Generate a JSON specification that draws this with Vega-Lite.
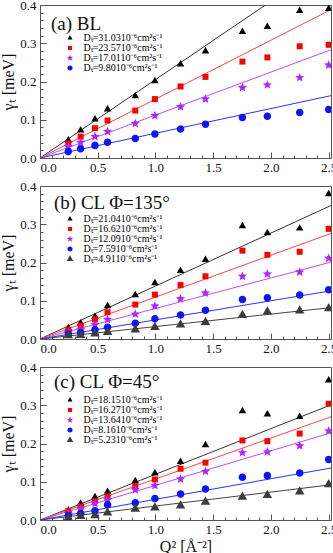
{
  "$schema": "https://vega.github.io/schema/vega-lite/v6.json",
  "background": "white",
  "padding": {"left": 0, "top": -2, "right": 2.5, "bottom": 0},
  "spacing": 28,
  "bounds": "flush",
  "config": {
    "font": "Liberation Serif",
    "view": {"stroke": "#555555", "strokeWidth": 1},
    "axis": {"labelFont": "Liberation Serif", "titleFont": "Liberation Serif", "labelFontSize": 13, "titleFontSize": 16, "titleFontWeight": "normal", "labelColor": "#111111", "titleColor": "#111111", "domainColor": "#555555", "tickColor": "#555555", "grid": false},
    "title": {"font": "Liberation Serif"}
  },
  "datasets": {
    "points": [
      {"p":"a","s":"31.03","q":0.245,"g":0.046},{"p":"a","s":"31.03","q":0.352,"g":0.072},{"p":"a","s":"31.03","q":0.476,"g":0.101},{"p":"a","s":"31.03","q":0.585,"g":0.127},{"p":"a","s":"31.03","q":0.825,"g":0.162},{"p":"a","s":"31.03","q":0.995,"g":0.201},{"p":"a","s":"31.03","q":1.217,"g":0.245},{"p":"a","s":"31.03","q":1.433,"g":0.279},{"p":"a","s":"31.03","q":1.753,"g":0.330},{"p":"a","s":"31.03","q":1.969,"g":0.343},{"p":"a","s":"31.03","q":2.249,"g":0.385},{"p":"a","s":"31.03","q":2.5,"g":0.390},
      {"p":"a","s":"23.57","q":0.245,"g":0.038},{"p":"a","s":"23.57","q":0.352,"g":0.056},{"p":"a","s":"23.57","q":0.476,"g":0.078},{"p":"a","s":"23.57","q":0.585,"g":0.098},{"p":"a","s":"23.57","q":0.825,"g":0.124},{"p":"a","s":"23.57","q":0.995,"g":0.154},{"p":"a","s":"23.57","q":1.217,"g":0.187},{"p":"a","s":"23.57","q":1.433,"g":0.212},{"p":"a","s":"23.57","q":1.753,"g":0.252},{"p":"a","s":"23.57","q":1.969,"g":0.263},{"p":"a","s":"23.57","q":2.249,"g":0.292},{"p":"a","s":"23.57","q":2.5,"g":0.296},
      {"p":"a","s":"17.01","q":0.245,"g":0.030},{"p":"a","s":"17.01","q":0.352,"g":0.041},{"p":"a","s":"17.01","q":0.476,"g":0.056},{"p":"a","s":"17.01","q":0.585,"g":0.069},{"p":"a","s":"17.01","q":0.825,"g":0.090},{"p":"a","s":"17.01","q":0.995,"g":0.111},{"p":"a","s":"17.01","q":1.217,"g":0.134},{"p":"a","s":"17.01","q":1.433,"g":0.154},{"p":"a","s":"17.01","q":1.753,"g":0.184},{"p":"a","s":"17.01","q":1.969,"g":0.191},{"p":"a","s":"17.01","q":2.249,"g":0.210},{"p":"a","s":"17.01","q":2.5,"g":0.243},
      {"p":"a","s":"9.80","q":0.245,"g":0.017},{"p":"a","s":"9.80","q":0.352,"g":0.024},{"p":"a","s":"9.80","q":0.476,"g":0.033},{"p":"a","s":"9.80","q":0.585,"g":0.041},{"p":"a","s":"9.80","q":0.825,"g":0.051},{"p":"a","s":"9.80","q":0.995,"g":0.063},{"p":"a","s":"9.80","q":1.217,"g":0.076},{"p":"a","s":"9.80","q":1.433,"g":0.088},{"p":"a","s":"9.80","q":1.753,"g":0.106},{"p":"a","s":"9.80","q":1.969,"g":0.109},{"p":"a","s":"9.80","q":2.249,"g":0.119},{"p":"a","s":"9.80","q":2.5,"g":0.127},

      {"p":"b","s":"21.04","q":0.245,"g":0.028},{"p":"b","s":"21.04","q":0.352,"g":0.041},{"p":"b","s":"21.04","q":0.476,"g":0.058},{"p":"b","s":"21.04","q":0.585,"g":0.086},{"p":"b","s":"21.04","q":0.825,"g":0.115},{"p":"b","s":"21.04","q":0.995,"g":0.146},{"p":"b","s":"21.04","q":1.217,"g":0.178},{"p":"b","s":"21.04","q":1.433,"g":0.207},{"p":"b","s":"21.04","q":1.753,"g":0.295},{"p":"b","s":"21.04","q":1.969,"g":0.277},{"p":"b","s":"21.04","q":2.249,"g":0.289},{"p":"b","s":"21.04","q":2.5,"g":0.379},
      {"p":"b","s":"16.62","q":0.245,"g":0.024},{"p":"b","s":"16.62","q":0.352,"g":0.035},{"p":"b","s":"16.62","q":0.476,"g":0.051},{"p":"b","s":"16.62","q":0.585,"g":0.070},{"p":"b","s":"16.62","q":0.825,"g":0.090},{"p":"b","s":"16.62","q":0.995,"g":0.116},{"p":"b","s":"16.62","q":1.217,"g":0.141},{"p":"b","s":"16.62","q":1.433,"g":0.164},{"p":"b","s":"16.62","q":1.753,"g":0.231},{"p":"b","s":"16.62","q":1.969,"g":0.220},{"p":"b","s":"16.62","q":2.249,"g":0.228},{"p":"b","s":"16.62","q":2.5,"g":0.288},
      {"p":"b","s":"12.09","q":0.245,"g":0.017},{"p":"b","s":"12.09","q":0.352,"g":0.024},{"p":"b","s":"12.09","q":0.476,"g":0.037},{"p":"b","s":"12.09","q":0.585,"g":0.051},{"p":"b","s":"12.09","q":0.825,"g":0.065},{"p":"b","s":"12.09","q":0.995,"g":0.086},{"p":"b","s":"12.09","q":1.217,"g":0.105},{"p":"b","s":"12.09","q":1.433,"g":0.120},{"p":"b","s":"12.09","q":1.753,"g":0.164},{"p":"b","s":"12.09","q":1.969,"g":0.170},{"p":"b","s":"12.09","q":2.249,"g":0.175},{"p":"b","s":"12.09","q":2.5,"g":0.211},
      {"p":"b","s":"7.59","q":0.245,"g":0.013},{"p":"b","s":"7.59","q":0.352,"g":0.017},{"p":"b","s":"7.59","q":0.476,"g":0.024},{"p":"b","s":"7.59","q":0.585,"g":0.031},{"p":"b","s":"7.59","q":0.825,"g":0.041},{"p":"b","s":"7.59","q":0.995,"g":0.053},{"p":"b","s":"7.59","q":1.217,"g":0.063},{"p":"b","s":"7.59","q":1.433,"g":0.075},{"p":"b","s":"7.59","q":1.753,"g":0.103},{"p":"b","s":"7.59","q":1.969,"g":0.108},{"p":"b","s":"7.59","q":2.249,"g":0.115},{"p":"b","s":"7.59","q":2.5,"g":0.129},
      {"p":"b","s":"4.91","q":0.245,"g":0.009},{"p":"b","s":"4.91","q":0.352,"g":0.010},{"p":"b","s":"4.91","q":0.476,"g":0.014},{"p":"b","s":"4.91","q":0.585,"g":0.018},{"p":"b","s":"4.91","q":0.825,"g":0.024},{"p":"b","s":"4.91","q":0.995,"g":0.031},{"p":"b","s":"4.91","q":1.217,"g":0.037},{"p":"b","s":"4.91","q":1.433,"g":0.044},{"p":"b","s":"4.91","q":1.753,"g":0.062},{"p":"b","s":"4.91","q":1.969,"g":0.071},{"p":"b","s":"4.91","q":2.249,"g":0.074},{"p":"b","s":"4.91","q":2.5,"g":0.080},

      {"p":"c","s":"18.15","q":0.245,"g":0.025},{"p":"c","s":"18.15","q":0.352,"g":0.043},{"p":"c","s":"18.15","q":0.476,"g":0.060},{"p":"c","s":"18.15","q":0.585,"g":0.074},{"p":"c","s":"18.15","q":0.825,"g":0.102},{"p":"c","s":"18.15","q":0.995,"g":0.122},{"p":"c","s":"18.15","q":1.217,"g":0.152},{"p":"c","s":"18.15","q":1.433,"g":0.196},{"p":"c","s":"18.15","q":1.753,"g":0.285},{"p":"c","s":"18.15","q":1.969,"g":0.276},{"p":"c","s":"18.15","q":2.249,"g":0.270},{"p":"c","s":"18.15","q":2.5,"g":0.365},
      {"p":"c","s":"16.27","q":0.245,"g":0.023},{"p":"c","s":"16.27","q":0.352,"g":0.035},{"p":"c","s":"16.27","q":0.476,"g":0.049},{"p":"c","s":"16.27","q":0.585,"g":0.061},{"p":"c","s":"16.27","q":0.825,"g":0.089},{"p":"c","s":"16.27","q":0.995,"g":0.106},{"p":"c","s":"16.27","q":1.217,"g":0.134},{"p":"c","s":"16.27","q":1.433,"g":0.150},{"p":"c","s":"16.27","q":1.753,"g":0.208},{"p":"c","s":"16.27","q":1.969,"g":0.206},{"p":"c","s":"16.27","q":2.249,"g":0.226},{"p":"c","s":"16.27","q":2.5,"g":0.304},
      {"p":"c","s":"13.64","q":0.245,"g":0.017},{"p":"c","s":"13.64","q":0.352,"g":0.029},{"p":"c","s":"13.64","q":0.476,"g":0.043},{"p":"c","s":"13.64","q":0.585,"g":0.053},{"p":"c","s":"13.64","q":0.825,"g":0.079},{"p":"c","s":"13.64","q":0.995,"g":0.090},{"p":"c","s":"13.64","q":1.217,"g":0.107},{"p":"c","s":"13.64","q":1.433,"g":0.127},{"p":"c","s":"13.64","q":1.753,"g":0.176},{"p":"c","s":"13.64","q":1.969,"g":0.178},{"p":"c","s":"13.64","q":2.249,"g":0.194},{"p":"c","s":"13.64","q":2.5,"g":0.233},
      {"p":"c","s":"8.16","q":0.245,"g":0.012},{"p":"c","s":"8.16","q":0.352,"g":0.017},{"p":"c","s":"8.16","q":0.476,"g":0.024},{"p":"c","s":"8.16","q":0.585,"g":0.040},{"p":"c","s":"8.16","q":0.825,"g":0.045},{"p":"c","s":"8.16","q":0.995,"g":0.056},{"p":"c","s":"8.16","q":1.217,"g":0.068},{"p":"c","s":"8.16","q":1.433,"g":0.081},{"p":"c","s":"8.16","q":1.753,"g":0.112},{"p":"c","s":"8.16","q":1.969,"g":0.116},{"p":"c","s":"8.16","q":2.249,"g":0.123},{"p":"c","s":"8.16","q":2.5,"g":0.158},
      {"p":"c","s":"5.23","q":0.245,"g":0.006},{"p":"c","s":"5.23","q":0.352,"g":0.010},{"p":"c","s":"5.23","q":0.476,"g":0.012},{"p":"c","s":"5.23","q":0.585,"g":0.019},{"p":"c","s":"5.23","q":0.825,"g":0.029},{"p":"c","s":"5.23","q":0.995,"g":0.032},{"p":"c","s":"5.23","q":1.217,"g":0.037},{"p":"c","s":"5.23","q":1.433,"g":0.047},{"p":"c","s":"5.23","q":1.753,"g":0.060},{"p":"c","s":"5.23","q":1.969,"g":0.065},{"p":"c","s":"5.23","q":2.249,"g":0.074},{"p":"c","s":"5.23","q":2.5,"g":0.093}
    ],
    "lines": [
      {"p":"a","s":"31.03","q":0,"g":0},{"p":"a","s":"31.03","q":1.952,"g":0.4},
      {"p":"a","s":"23.57","q":0,"g":0},{"p":"a","s":"23.57","q":2.52,"g":0.388},
      {"p":"a","s":"17.01","q":0,"g":0},{"p":"a","s":"17.01","q":2.52,"g":0.283},
      {"p":"a","s":"9.80","q":0,"g":0},{"p":"a","s":"9.80","q":2.52,"g":0.163},
      {"p":"b","s":"21.04","q":0,"g":0},{"p":"b","s":"21.04","q":2.52,"g":0.349},
      {"p":"b","s":"16.62","q":0,"g":0},{"p":"b","s":"16.62","q":2.52,"g":0.276},
      {"p":"b","s":"12.09","q":0,"g":0},{"p":"b","s":"12.09","q":2.52,"g":0.201},
      {"p":"b","s":"7.59","q":0,"g":0},{"p":"b","s":"7.59","q":2.52,"g":0.126},
      {"p":"b","s":"4.91","q":0,"g":0},{"p":"b","s":"4.91","q":2.52,"g":0.082},
      {"p":"c","s":"18.15","q":0,"g":0},{"p":"c","s":"18.15","q":2.52,"g":0.301},
      {"p":"c","s":"16.27","q":0,"g":0},{"p":"c","s":"16.27","q":2.52,"g":0.270},
      {"p":"c","s":"13.64","q":0,"g":0},{"p":"c","s":"13.64","q":2.52,"g":0.228},
      {"p":"c","s":"8.16","q":0,"g":0},{"p":"c","s":"8.16","q":2.52,"g":0.136},
      {"p":"c","s":"5.23","q":0,"g":0},{"p":"c","s":"5.23","q":2.52,"g":0.092}
    ]
  },
  "resolve": {
    "scale": {"x": "independent", "y": "independent", "color": "independent", "shape": "independent", "stroke": "independent"},
    "legend": {"color": "independent", "shape": "independent", "stroke": "independent"}
  },
  "vconcat": [
    {
      "width": 291, "height": 153,
      "title": {"text": "(a) BL", "anchor": "start", "frame": "group", "orient": "top", "offset": -50, "baseline": "alphabetic", "dx": 11, "fontSize": 19, "fontWeight": "normal", "color": "#111111"},
      "layer": [
        {
          "data": {"name": "lines"}, "transform": [{"filter": "datum.p === 'a'"}],
          "mark": {"type": "line", "clip": true, "strokeWidth": 1},
          "encoding": {
            "x": {"field": "q", "type": "quantitative", "scale": {"domain": [0, 2.52], "nice": false, "zero": false}, "axis": {"orient": "bottom", "values": [0.1,0.2,0.3,0.4,0.6,0.7,0.8,0.9,1.1,1.2,1.3,1.4,1.6,1.7,1.8,1.9,2.1,2.2,2.3,2.4], "labels": false, "domain": false, "tickSize": -3, "title": null}},
            "y": {"field": "g", "type": "quantitative", "scale": {"domain": [0, 0.4], "nice": false}, "axis": {"orient": "left", "values": [0.02,0.04,0.06,0.08,0.12,0.14,0.16,0.18,0.22,0.24,0.26,0.28,0.32,0.34,0.36,0.38], "labels": false, "domain": false, "tickSize": -3, "title": null}},
            "stroke": {"field": "s", "type": "nominal", "scale": {"domain": ["9.80","17.01","23.57","31.03"], "range": ["#3030ff","#c04cff","#ff4444","#333333"]}, "legend": null}
          }
        },
        {
          "data": {"name": "points"}, "transform": [{"filter": "datum.p === 'a'"}],
          "mark": {"type": "point", "filled": true, "opacity": 1, "clip": true, "size": 64},
          "encoding": {
            "x": {"field": "q", "type": "quantitative", "scale": {"domain": [0, 2.52], "nice": false, "zero": false}, "axis": {"orient": "bottom", "values": [0,0.5,1,1.5,2,2.5], "format": ".1f", "tickSize": -6, "labelPadding": 9.5, "title": null}},
            "y": {"field": "g", "type": "quantitative", "scale": {"domain": [0, 0.4], "nice": false}, "axis": {"orient": "left", "values": [0,0.1,0.2,0.3,0.4], "format": ".1f", "tickSize": -6, "labelPadding": 10, "title": "γₜ [meV]", "titlePadding": 3}},
            "color": {"field": "s", "type": "nominal", "scale": {"domain": ["31.03","23.57","17.01","9.80"], "range": ["#000000","#ff0000","#b026ff","#0a14ff"]},
              "legend": {"orient": "none", "legendX": 25, "legendY": 28, "title": null, "padding": 0, "rowPadding": -1.5, "symbolSize": 30, "labelFont": "Liberation Serif", "labelFontSize": 10, "labelOffset": 8.5, "labelExpr": "'Dₜ=' + datum.label + '10⁻⁶cm²s⁻¹'", "encode": {"labels": {"update": {"fill": {"signal": "['#000000','#ff2020','#c040ff','#2040ff','#555555'][datum.index]"}}}}}},
            "shape": {"field": "s", "type": "nominal", "scale": {"domain": ["31.03","23.57","17.01","9.80"], "range": ["M0,-1.08L0.94,0.54L-0.94,0.54Z","M-0.75,-0.75L0.75,-0.75L0.75,0.75L-0.75,0.75Z","M0,-1.2L0.317,-0.437L1.141,-0.371L0.514,0.167L0.705,0.971L0,0.54L-0.705,0.971L-0.514,0.167L-1.141,-0.371L-0.317,-0.437Z","M0.94,0A0.94,0.94,0,1,1,-0.94,0A0.94,0.94,0,1,1,0.94,0Z"]},
              "legend": {"orient": "none", "legendX": 25, "legendY": 28, "title": null, "padding": 0, "rowPadding": -1.5, "symbolSize": 30, "labelFont": "Liberation Serif", "labelFontSize": 10, "labelOffset": 8.5, "labelExpr": "'Dₜ=' + datum.label + '10⁻⁶cm²s⁻¹'", "encode": {"labels": {"update": {"fill": {"signal": "['#000000','#ff2020','#c040ff','#2040ff','#555555'][datum.index]"}}}}}}
          }
        }
      ],
      "resolve": {"axis": {"x": "independent", "y": "independent"}}
    },
    {
      "width": 291, "height": 153,
      "title": {"text": "(b) CL  Φ=135°", "anchor": "start", "frame": "group", "orient": "top", "offset": -48, "baseline": "alphabetic", "dx": 14, "fontSize": 19, "fontWeight": "normal", "color": "#111111"},
      "layer": [
        {
          "data": {"name": "lines"}, "transform": [{"filter": "datum.p === 'b'"}],
          "mark": {"type": "line", "clip": true, "strokeWidth": 1},
          "encoding": {
            "x": {"field": "q", "type": "quantitative", "scale": {"domain": [0, 2.52], "nice": false, "zero": false}, "axis": {"orient": "bottom", "values": [0.1,0.2,0.3,0.4,0.6,0.7,0.8,0.9,1.1,1.2,1.3,1.4,1.6,1.7,1.8,1.9,2.1,2.2,2.3,2.4], "labels": false, "domain": false, "tickSize": -3, "title": null}},
            "y": {"field": "g", "type": "quantitative", "scale": {"domain": [0, 0.4], "nice": false}, "axis": {"orient": "left", "values": [0.02,0.04,0.06,0.08,0.12,0.14,0.16,0.18,0.22,0.24,0.26,0.28,0.32,0.34,0.36,0.38], "labels": false, "domain": false, "tickSize": -3, "title": null}},
            "stroke": {"field": "s", "type": "nominal", "scale": {"domain": ["4.91","7.59","12.09","16.62","21.04"], "range": ["#444444","#3030ff","#c04cff","#ff4444","#333333"]}, "legend": null}
          }
        },
        {
          "data": {"name": "points"}, "transform": [{"filter": "datum.p === 'b'"}],
          "mark": {"type": "point", "filled": true, "opacity": 1, "clip": true, "size": 64},
          "encoding": {
            "x": {"field": "q", "type": "quantitative", "scale": {"domain": [0, 2.52], "nice": false, "zero": false}, "axis": {"orient": "bottom", "values": [0,0.5,1,1.5,2,2.5], "format": ".1f", "tickSize": -6, "labelPadding": 9.5, "title": null}},
            "y": {"field": "g", "type": "quantitative", "scale": {"domain": [0, 0.4], "nice": false}, "axis": {"orient": "left", "values": [0,0.1,0.2,0.3,0.4], "format": ".1f", "tickSize": -6, "labelPadding": 10, "title": "γₜ [meV]", "titlePadding": 3}},
            "color": {"field": "s", "type": "nominal", "scale": {"domain": ["21.04","16.62","12.09","7.59","4.91"], "range": ["#000000","#ff0000","#b026ff","#0a14ff","#3c3c3c"]},
              "legend": {"orient": "none", "legendX": 25, "legendY": 28, "title": null, "padding": 0, "rowPadding": -1.5, "symbolSize": 30, "labelFont": "Liberation Serif", "labelFontSize": 10, "labelOffset": 8.5, "labelExpr": "'Dₜ=' + datum.label + '10⁻⁶cm²s⁻¹'", "encode": {"labels": {"update": {"fill": {"signal": "['#000000','#ff2020','#c040ff','#2040ff','#555555'][datum.index]"}}}}}},
            "shape": {"field": "s", "type": "nominal", "scale": {"domain": ["21.04","16.62","12.09","7.59","4.91"], "range": ["M0,-1.08L0.94,0.54L-0.94,0.54Z","M-0.75,-0.75L0.75,-0.75L0.75,0.75L-0.75,0.75Z","M0,-1.2L0.317,-0.437L1.141,-0.371L0.514,0.167L0.705,0.971L0,0.54L-0.705,0.971L-0.514,0.167L-1.141,-0.371L-0.317,-0.437Z","M0.94,0A0.94,0.94,0,1,1,-0.94,0A0.94,0.94,0,1,1,0.94,0Z","M0,-1.37L1.19,0.69L-1.19,0.69Z"]},
              "legend": {"orient": "none", "legendX": 25, "legendY": 28, "title": null, "padding": 0, "rowPadding": -1.5, "symbolSize": 30, "labelFont": "Liberation Serif", "labelFontSize": 10, "labelOffset": 8.5, "labelExpr": "'Dₜ=' + datum.label + '10⁻⁶cm²s⁻¹'", "encode": {"labels": {"update": {"fill": {"signal": "['#000000','#ff2020','#c040ff','#2040ff','#555555'][datum.index]"}}}}}}
          }
        }
      ],
      "resolve": {"axis": {"x": "independent", "y": "independent"}}
    },
    {
      "width": 291, "height": 153,
      "title": {"text": "(c) CL  Φ=45°", "anchor": "start", "frame": "group", "orient": "top", "offset": -46, "baseline": "alphabetic", "dx": 14, "fontSize": 19, "fontWeight": "normal", "color": "#111111"},
      "layer": [
        {
          "data": {"name": "lines"}, "transform": [{"filter": "datum.p === 'c'"}],
          "mark": {"type": "line", "clip": true, "strokeWidth": 1},
          "encoding": {
            "x": {"field": "q", "type": "quantitative", "scale": {"domain": [0, 2.52], "nice": false, "zero": false}, "axis": {"orient": "bottom", "values": [0.1,0.2,0.3,0.4,0.6,0.7,0.8,0.9,1.1,1.2,1.3,1.4,1.6,1.7,1.8,1.9,2.1,2.2,2.3,2.4], "labels": false, "domain": false, "tickSize": -3, "title": null}},
            "y": {"field": "g", "type": "quantitative", "scale": {"domain": [0, 0.4], "nice": false}, "axis": {"orient": "left", "values": [0.02,0.04,0.06,0.08,0.12,0.14,0.16,0.18,0.22,0.24,0.26,0.28,0.32,0.34,0.36,0.38], "labels": false, "domain": false, "tickSize": -3, "title": null}},
            "stroke": {"field": "s", "type": "nominal", "scale": {"domain": ["5.23","8.16","13.64","16.27","18.15"], "range": ["#444444","#3030ff","#c04cff","#ff4444","#333333"]}, "legend": null}
          }
        },
        {
          "data": {"name": "points"}, "transform": [{"filter": "datum.p === 'c'"}],
          "mark": {"type": "point", "filled": true, "opacity": 1, "clip": true, "size": 64},
          "encoding": {
            "x": {"field": "q", "type": "quantitative", "scale": {"domain": [0, 2.52], "nice": false, "zero": false}, "axis": {"orient": "bottom", "values": [0,0.5,1,1.5,2,2.5], "format": ".1f", "tickSize": -6, "labelPadding": 9.5, "title": "Q² [Å⁻²]", "titlePadding": 2}},
            "y": {"field": "g", "type": "quantitative", "scale": {"domain": [0, 0.4], "nice": false}, "axis": {"orient": "left", "values": [0,0.1,0.2,0.3,0.4], "format": ".1f", "tickSize": -6, "labelPadding": 10, "title": "γₜ [meV]", "titlePadding": 3}},
            "color": {"field": "s", "type": "nominal", "scale": {"domain": ["18.15","16.27","13.64","8.16","5.23"], "range": ["#000000","#ff0000","#b026ff","#0a14ff","#3c3c3c"]},
              "legend": {"orient": "none", "legendX": 25, "legendY": 28, "title": null, "padding": 0, "rowPadding": -1.5, "symbolSize": 30, "labelFont": "Liberation Serif", "labelFontSize": 10, "labelOffset": 8.5, "labelExpr": "'Dₜ=' + datum.label + '10⁻⁶cm²s⁻¹'", "encode": {"labels": {"update": {"fill": {"signal": "['#000000','#ff2020','#c040ff','#2040ff','#555555'][datum.index]"}}}}}},
            "shape": {"field": "s", "type": "nominal", "scale": {"domain": ["18.15","16.27","13.64","8.16","5.23"], "range": ["M0,-1.08L0.94,0.54L-0.94,0.54Z","M-0.75,-0.75L0.75,-0.75L0.75,0.75L-0.75,0.75Z","M0,-1.2L0.317,-0.437L1.141,-0.371L0.514,0.167L0.705,0.971L0,0.54L-0.705,0.971L-0.514,0.167L-1.141,-0.371L-0.317,-0.437Z","M0.94,0A0.94,0.94,0,1,1,-0.94,0A0.94,0.94,0,1,1,0.94,0Z","M0,-1.37L1.19,0.69L-1.19,0.69Z"]},
              "legend": {"orient": "none", "legendX": 25, "legendY": 28, "title": null, "padding": 0, "rowPadding": -1.5, "symbolSize": 30, "labelFont": "Liberation Serif", "labelFontSize": 10, "labelOffset": 8.5, "labelExpr": "'Dₜ=' + datum.label + '10⁻⁶cm²s⁻¹'", "encode": {"labels": {"update": {"fill": {"signal": "['#000000','#ff2020','#c040ff','#2040ff','#555555'][datum.index]"}}}}}}
          }
        }
      ],
      "resolve": {"axis": {"x": "independent", "y": "independent"}}
    }
  ]
}
